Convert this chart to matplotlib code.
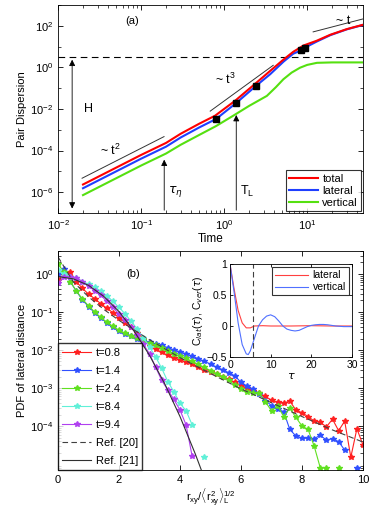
import numpy as np
import matplotlib
matplotlib.use("Agg")
import matplotlib.pyplot as plt
from matplotlib.ticker import LogLocator, NullFormatter, FixedLocator

plt.rcParams['font.family'] = ['Liberation Sans', 'DejaVu Sans']
plt.rcParams['mathtext.fontset'] = 'custom'
plt.rcParams['mathtext.rm'] = 'Liberation Sans'
plt.rcParams['mathtext.it'] = 'Liberation Sans'
plt.rcParams['font.size'] = 8

# ---------------- Panel (a): pair dispersion ----------------
t_total = [0.02, 0.1, 0.2, 0.3, 0.5, 0.78, 1.36, 2.25, 3.58, 5.2, 6.8, 9.0, 13.0, 19.0, 30.0, 47.0]
log_total = [-5.63, -4.21, -3.63, -3.19, -2.71, -2.32, -1.6, -0.86, -0.17, 0.38, 0.75, 1.05, 1.28, 1.57, 1.84, 2.05]
t_lateral = [0.02, 0.1, 0.2, 0.3, 0.5, 0.8, 1.4, 2.4, 3.58, 5.2, 6.8, 8.4, 9.4, 13.0, 19.0, 30.0, 47.0]
log_lateral = [-5.81, -4.39, -3.81, -3.37, -2.89, -2.48, -1.71, -0.9, -0.33, 0.28, 0.66, 0.81, 0.95, 1.24, 1.55, 1.83, 2.04]
t_vertical = [0.02, 0.1, 0.2, 0.3, 0.5, 0.8, 1.29, 2.0, 3.27, 4.2, 5.17, 6.5, 8.2, 10.0, 13.1, 20.0, 47.0]
log_vertical = [-6.14, -4.72, -4.14, -3.72, -3.25, -2.82, -2.32, -1.85, -1.37, -0.95, -0.57, -0.25, -0.015, 0.12, 0.22, 0.24, 0.24]
marker_t = [0.8, 1.4, 2.4, 8.4, 9.4]
marker_val = [3.3e-3, 0.019, 0.126, 6.5, 8.9]
H_level = 3.2
# power-law guide segments (start, end) in data coords
guide_t2_t = [0.0195, 0.189]; guide_t2_y = [4.7e-6, 4.7e-4]
guide_t3_t = [0.68, 3.9];     guide_t3_y = [7.9e-3, 1.26]
guide_t1_t = [11.8, 47.0];    guide_t1_y = [51.0, 214.0]
tau_eta = 0.19
T_L = 1.4

# ---------------- Panel (b): PDFs ----------------
r_grid = np.round(np.arange(0, 10.01, 0.2), 1)
nan = np.nan
log_p08 = [-0.15, 0.0, 0.05, -0.2, -0.38, -0.53, -0.65, -0.78, -0.9, -1.02, -1.15, -1.28, -1.4,
           -1.55, -1.7, -1.9, -1.98, -2.06, -2.14, -2.2, -2.26, -2.32, -2.38, -2.45, -2.52, -2.58,
           -2.64, -2.7, -2.77, -2.85, -2.93, -3.0, -3.07, -3.14, -3.22, -3.32, -3.38, -3.4, -3.34,
           -3.58, -3.65, -3.75, -3.87, -3.9, -4.02, -3.82, -4.12, -3.87, -4.82, -4.07, -4.5]
log_p14 = [0.0, 0.12, -0.2, -0.45, -0.68, -0.86, -1.02, -1.16, -1.28, -1.4, -1.5, -1.57, -1.64,
           -1.7, -1.76, -1.8, -1.84, -1.88, -1.94, -2.0, -2.05, -2.1, -2.16, -2.23, -2.3, -2.37,
           -2.45, -2.52, -2.6, -2.68, -2.85, -2.95, -3.03, -3.15, -3.33, -3.46, -3.56, -3.62, -4.09,
           -4.26, -4.32, -4.32, -4.33, -4.24, -4.37, -4.33, -4.41, -4.63, nan, -5.1, nan]
log_p24 = [0.25, 0.05, -0.2, -0.45, -0.66, -0.84, -1.0, -1.14, -1.27, -1.38, -1.48, -1.56, -1.63,
           -1.69, -1.75, -1.82, -1.87, -1.94, -2.02, -2.1, -2.16, -2.22, -2.3, -2.38, -2.46, -2.54,
           -2.62, -2.7, -2.8, -2.92, -3.03, -3.1, -3.12, -3.14, -3.36, -3.6, -3.47, -3.75, -3.53,
           -3.77, -4.0, -4.09, -4.53, -5.1, -5.1, nan, -5.1, nan, nan, nan, nan]
r_late = np.round(np.arange(0, 4.81, 0.2), 1)
log_p84 = [0.1, 0.0, -0.08, -0.12, -0.2, -0.27, -0.35, -0.45, -0.57, -0.72, -0.88, -1.05, -1.25,
           -1.45, -1.68, -1.92, -2.18, -2.48, -2.83, -3.1, -3.4, -3.6, -3.97, nan, -4.81]
log_p94 = [-0.25, -0.08, -0.07, -0.1, -0.2, -0.32, -0.44, -0.56, -0.72, -0.88, -1.05, -1.22, -1.4,
           -1.6, -1.85, -2.1, -2.45, -2.8, -3.05, -3.3, -3.58, -3.97, -4.8, nan, nan]
ref20_r = [0, 0.5, 1, 1.5, 2, 3, 4, 5, 6, 7, 8, 9, 10]
ref20_p = [2.8, 0.62, 0.25, 0.117, 0.060, 0.0186, 0.0063, 0.0024, 0.00095, 0.00041, 0.000178, 7.9e-5, 3.8e-5]
ref21_r = [0, 0.5, 1, 1.5, 2, 2.5, 3, 3.5, 4, 4.5, 4.8]
ref21_logp = [-0.07, -0.13, -0.30, -0.59, -0.99, -1.51, -2.14, -2.89, -3.75, -4.73, -5.37]
pdf_labels = ['t=0.8', 't=1.4', 't=2.4', 't=8.4', 't=9.4']
pdf_colors = ['#ff2020', '#3050ff', '#60e020', '#60f0d8', '#b040f0']

# inset: autocorrelations
tau_lat = [0, 1, 2, 3, 4, 5, 6, 8, 10, 15, 20, 25, 30]
c_lat = [1.0, 0.6, 0.25, 0.05, -0.03, -0.03, 0.0, 0.005, 0.0, 0.0, 0.005, 0.0, 0.0]
tau_ver = [0, 1, 2, 3, 4, 4.5, 5, 6, 7, 8, 9, 10, 11, 12, 13, 14, 15, 16, 17, 18, 19, 20, 21, 22,
           23, 24, 25, 26, 28, 30]
c_ver = [1.0, 0.55, 0.05, -0.3, -0.45, -0.46, -0.4, -0.2, 0.0, 0.1, 0.16, 0.18, 0.15, 0.08, 0.0,
         -0.05, -0.07, -0.08, -0.07, -0.04, -0.01, 0.01, 0.02, 0.025, 0.025, 0.02, 0.01, 0.0,
         -0.01, -0.01]
tau_dash = 5.7

fig = plt.figure(figsize=(3.82, 5.11), dpi=100)

# ---- panel a
ax = fig.add_axes([58/382, 1-213/511, 305/382, 208/511])
ax.set_xscale('log'); ax.set_yscale('log')
ax.plot(t_total, 10**np.array(log_total), color='#ff0000', lw=1.5, label='total', zorder=4)
ax.plot(t_lateral, 10**np.array(log_lateral), color='#1f3fff', lw=1.5, label='lateral', zorder=3)
ax.plot(t_vertical, 10**np.array(log_vertical), color='#55e010', lw=1.5, label='vertical', zorder=2)
ax.plot(marker_t, marker_val, 's', color='k', ms=4, zorder=5)
ax.axhline(H_level, color='k', ls=(0, (6, 4)), lw=0.8)
for gx, gy in [(guide_t2_t, guide_t2_y), (guide_t3_t, guide_t3_y), (guide_t1_t, guide_t1_y)]:
    ax.plot(gx, gy, color='#333333', lw=0.7)
ax.set_xlim(1e-2, 47); ax.set_ylim(1e-7, 1e3)
arr = dict(arrowstyle='-|>', color='k', lw=0.6, mutation_scale=9)
ax.annotate('', xy=(0.0148, H_level), xytext=(0.0148, 1.2e-7),
            arrowprops=dict(arrowstyle='<|-|>', color='k', lw=0.6, mutation_scale=9))
ax.annotate('', xy=(tau_eta, 5e-5), xytext=(tau_eta, 1e-7), arrowprops=arr)
ax.annotate('', xy=(T_L, 7e-3), xytext=(T_L, 1e-7), arrowprops=arr)
ax.text(0.0206, 0.01, 'H', fontsize=9, va='center')
ax.text(0.21, 1.1e-6, r'$\tau_\eta$', fontsize=9, va='center', math_fontfamily='dejavusans')
ax.text(1.55, 1.1e-6, r'T$_\mathrm{L}$', fontsize=9, va='center')
ax.text(0.032, 1e-4, r'~ t$^2$', fontsize=9, va='center')
ax.text(0.78, 0.27, r'~ t$^3$', fontsize=9, va='center')
ax.text(22, 170, '~ t', fontsize=9, va='center')
ax.text(0.064, 170, '(a)', fontsize=8, va='center')
ax.set_ylabel('Pair Dispersion', fontsize=8, labelpad=2)
ax.set_xlabel('Time', fontsize=8.5, labelpad=1)
ax.yaxis.set_major_locator(FixedLocator([1e-6, 1e-4, 1e-2, 1e0, 1e2]))
ax.yaxis.set_minor_locator(FixedLocator([1e-7, 1e-5, 1e-3, 1e-1, 1e1, 1e3]))
ax.yaxis.set_minor_formatter(NullFormatter())
ax.xaxis.set_major_locator(LogLocator(base=10, numticks=10))
ax.xaxis.set_minor_locator(LogLocator(base=10, subs=np.arange(2, 10), numticks=10))
ax.xaxis.set_minor_formatter(NullFormatter())
ax.tick_params(which='both', direction='in', top=True, right=True, labelsize=8)
ax.tick_params(which='major', length=3.5, width=0.6)
ax.tick_params(which='minor', length=2, width=0.5)
leg = ax.legend(loc='lower right', fontsize=8, frameon=True, fancybox=False, handlelength=2.6,
                borderpad=0.3, labelspacing=0.2, handletextpad=0.4, borderaxespad=0.15)
leg.get_frame().set_edgecolor('k'); leg.get_frame().set_linewidth(0.8)
for s in ax.spines.values():
    s.set_linewidth(0.6)

# ---- panel b
bx = fig.add_axes([58/382, 1-470/511, 305/382, 219/511])
bx.set_yscale('log')
series = [(r_grid, log_p08), (r_grid, log_p14), (r_grid, log_p24), (r_late, log_p84), (r_late, log_p94)]
for (rr, lp), lab, col in zip(series, pdf_labels, pdf_colors):
    bx.plot(rr, 10**np.array(lp, dtype=float), '-', marker='*', color=col, lw=0.8, ms=3.8,
            mec=col, label=lab)
bx.plot(ref20_r, ref20_p, color='#404040', ls=(0, (5, 3)), lw=0.8, label='Ref. [20]')
bx.plot(ref21_r, 10**np.array(ref21_logp), color='#303030', lw=0.8, label='Ref. [21]')
bx.set_xlim(0, 10); bx.set_ylim(7e-6, 4)
bx.set_xticks([0, 2, 4, 6, 8, 10])
bx.yaxis.set_major_locator(FixedLocator([1e-4, 1e-3, 1e-2, 1e-1, 1e0]))
bx.yaxis.set_minor_locator(LogLocator(base=10, subs=np.arange(2, 10), numticks=10))
bx.yaxis.set_minor_formatter(NullFormatter())
bx.tick_params(which='both', direction='in', top=True, right=True, labelsize=8)
bx.tick_params(which='major', length=3.5, width=0.6)
bx.tick_params(which='minor', length=2, width=0.5)
bx.set_ylabel('PDF of lateral distance', fontsize=8, labelpad=2)
bx.set_xlabel(r'r$_{xy}$/$\langle$r$^2_{xy}\rangle^{1/2}_L$', fontsize=8, labelpad=1)
bx.text(2.23, 1.0, '(b)', fontsize=8, va='center')
leg2 = bx.legend(loc='lower left', fontsize=8, frameon=True, fancybox=False, handlelength=2.6,
                 borderpad=0.4, labelspacing=0.72, handletextpad=0.4, borderaxespad=0.0)
leg2.get_frame().set_edgecolor('k'); leg2.get_frame().set_linewidth(1.0)
for s in bx.spines.values():
    s.set_linewidth(0.6)

# ---- inset
ix = fig.add_axes([230/382, 1-357/511, 122/382, 93/511])
ix.plot(tau_lat, c_lat, color='#ff4040', lw=0.8, label='lateral')
ix.plot(tau_ver, c_ver, color='#5070ff', lw=0.8, label='vertical')
ix.axvline(tau_dash, color='#404040', ls=(0, (5, 3)), lw=0.8)
ix.set_xlim(0, 30); ix.set_ylim(-0.5, 1)
ix.set_xticks([0, 10, 20, 30]); ix.set_yticks([-0.5, 0, 0.5, 1])
ix.set_yticklabels(['\u22120.5', '0', '0.5', '1'])
ix.tick_params(direction='in', top=True, right=True, labelsize=7.5, length=2.5, width=0.6, pad=2)
ix.set_xlabel(r'$\tau$', fontsize=8, labelpad=1, math_fontfamily='dejavusans')
ix.set_ylabel(r'C$_{lat}$($\tau$), C$_{ver}$($\tau$)', fontsize=7.5, labelpad=1,
              math_fontfamily='dejavusans')
leg3 = ix.legend(loc='upper right', fontsize=7.5, frameon=True, fancybox=False, handlelength=3.2,
                 borderpad=0.3, labelspacing=0.2, handletextpad=0.4, borderaxespad=0.3)
leg3.get_frame().set_edgecolor('k'); leg3.get_frame().set_linewidth(0.8)
for s in ix.spines.values():
    s.set_linewidth(0.6)

fig.savefig('out.png', dpi=100)
